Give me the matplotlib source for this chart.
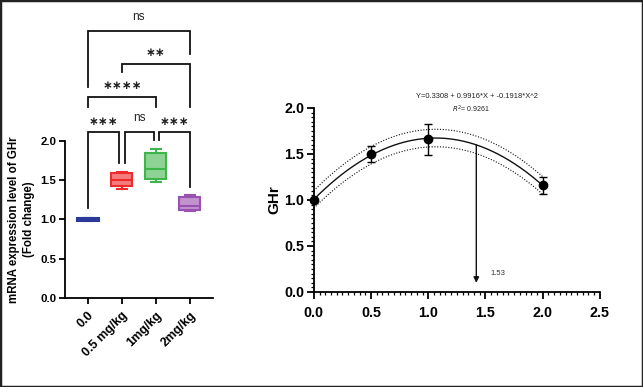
import numpy as np
import matplotlib
matplotlib.use("Agg")
import matplotlib.pyplot as plt
from matplotlib.patches import Rectangle
from matplotlib.ticker import MultipleLocator

plt.rcParams['font.family'] = ['Liberation Sans', 'DejaVu Sans']

# ---- left panel data (box stats) ----
groups = ["0.0", "0.5 mg/kg", "1mg/kg", "2mg/kg"]
box_colors = ["#2B3A9A", "#EE2A2A", "#3DB54A", "#9A52B0"]
box_fills = ["#5A67C0", "#F47C7C", "#8ED394", "#C193CF"]
whislo = [0.98, 1.39, 1.48, 1.11]
q1 = [0.98, 1.43, 1.52, 1.12]
med = [1.00, 1.50, 1.64, 1.17]
q3 = [1.02, 1.59, 1.85, 1.28]
whishi = [1.02, 1.61, 1.90, 1.31]

# significance brackets: (x_left, x_right, y, left_leg_bottom, right_leg_bottom, label)
sig_x1 = [0.0, 1.09, 2.09, 0.0, 1.0, 0.0]
sig_x2 = [0.91, 1.94, 3.0, 2.0, 3.0, 3.0]
sig_y = [2.11, 2.11, 2.11, 2.56, 2.98, 3.40]
sig_l = [1.15, 1.72, 2.01, 2.43, 2.88, 2.68]
sig_r = [1.72, 2.01, 1.41, 2.43, 2.43, 3.11]
sig_lab = ["∗∗∗", "ns", "∗∗∗", "∗∗∗∗", "∗∗", "ns"]

# ---- right panel data ----
dose = [0.0, 0.5, 1.0, 2.0]
ghr = [1.00, 1.50, 1.66, 1.16]
ghr_err = [0.0, 0.09, 0.17, 0.095]
ci_halfwidth = 0.095
arrow_x = 1.42
arrow_y_end = 0.10
arrow_label = "1.53"
equation = "Y=0.3308 + 0.9916*X + -0.1918*X^2"
r2_text = "$R^2$= 0.9261"

fig = plt.figure(figsize=(6.43, 3.87), dpi=100)
fig.patches.append(Rectangle((0, 0), 1, 1, transform=fig.transFigure,
                             fill=False, edgecolor="#222222", linewidth=2.5))

# ===== left panel =====
ax1 = fig.add_axes([0.101, 0.230, 0.230, 0.406])
stats = []
for i in range(len(groups)):
    stats.append(dict(med=med[i], q1=q1[i], q3=q3[i], whislo=whislo[i], whishi=whishi[i]))
pos = np.arange(len(groups))
bp = ax1.bxp(stats, positions=pos, widths=0.62, showfliers=False, patch_artist=True,
             manage_ticks=False)
for i in range(len(groups)):
    bp['boxes'][i].set_facecolor(box_fills[i])
    bp['boxes'][i].set_edgecolor(box_colors[i])
    bp['boxes'][i].set_linewidth(1.5)
    bp['medians'][i].set_color(box_colors[i])
    bp['medians'][i].set_linewidth(1.5)
    for w in bp['whiskers'][2 * i:2 * i + 2]:
        w.set_color(box_colors[i]); w.set_linewidth(1.5)
    for c in bp['caps'][2 * i:2 * i + 2]:
        c.set_color(box_colors[i]); c.set_linewidth(1.5)
        c.set_xdata([pos[i] - 0.15, pos[i] + 0.15])
bp['boxes'][0].set_facecolor(box_colors[0])

ax1.set_xlim(-0.68, 3.68)
ax1.set_ylim(0, 2.0)
ax1.set_yticks([0.0, 0.5, 1.0, 1.5, 2.0])
ax1.set_yticklabels(["0.0", "0.5", "1.0", "1.5", "2.0"], fontweight="bold", fontsize=8.2)
ax1.set_xticks(pos)
ax1.set_xticklabels(groups, rotation=45, ha="right", rotation_mode="anchor",
                    fontweight="bold", fontsize=9)
for s in ["top", "right"]:
    ax1.spines[s].set_visible(False)
for s in ["left", "bottom"]:
    ax1.spines[s].set_linewidth(1.3)
ax1.tick_params(width=1.3, length=4, pad=2)
ax1.tick_params(axis="x", pad=4)
ax1.set_ylabel("mRNA expression level of GHr\n(Fold change)", fontweight="bold",
               fontsize=8.3, labelpad=4, linespacing=1.35)

for i in range(len(sig_lab)):
    ax1.plot([sig_x1[i], sig_x1[i], sig_x2[i], sig_x2[i]],
             [sig_l[i], sig_y[i], sig_y[i], sig_r[i]],
             color="#111111", lw=1.3, clip_on=False, solid_joinstyle="miter")
    cx = (sig_x1[i] + sig_x2[i]) / 2
    if sig_lab[i] == "ns":
        ax1.text(cx, sig_y[i] + 0.10, "ns", ha="center", va="bottom", fontsize=8.5,
                 color="#222222", clip_on=False)
    else:
        ax1.text(cx, sig_y[i] + 0.06, sig_lab[i], ha="center", va="bottom", fontsize=8.5,
                 family="DejaVu Sans", fontweight="bold", color="#222222", clip_on=False)

# ===== right panel =====
ax2 = fig.add_axes([0.488, 0.2455, 0.445, 0.4755])
coef = np.polyfit(dose, ghr, 2)
xf = np.linspace(min(dose), max(dose), 200)
yf = np.polyval(coef, xf)
ax2.plot(xf, yf, color="#111111", lw=1.0)
ax2.plot(xf, yf + ci_halfwidth, color="#111111", lw=0.8, ls=(0, (1, 1.5)))
ax2.plot(xf, yf - ci_halfwidth, color="#111111", lw=0.8, ls=(0, (1, 1.5)))
ax2.errorbar(dose, ghr, yerr=ghr_err, fmt="o", color="#000000", ms=6,
             capsize=3, elinewidth=1.0, capthick=1.0, zorder=5, clip_on=False)
ay0 = np.polyval(coef, arrow_x)
ax2.annotate("", xy=(arrow_x, arrow_y_end), xytext=(arrow_x, ay0),
             arrowprops=dict(arrowstyle="-|>", color="#111111", lw=1.0,
                             mutation_scale=8, shrinkA=0, shrinkB=0))
ax2.text(arrow_x + 0.12, 0.2, arrow_label, fontsize=5.5, color="#333333", va="center")
ax2.text(1.425, 2.13, equation, fontsize=5.4, ha="center", va="center",
         color="#222222", clip_on=False)
ax2.text(1.37, 1.98, r2_text, fontsize=5.0, ha="center", va="center",
         color="#222222", clip_on=False)

ax2.set_xlim(0, 2.5)
ax2.set_ylim(0, 2.0)
ax2.set_xticks([0.0, 0.5, 1.0, 1.5, 2.0, 2.5])
ax2.set_xticklabels(["0.0", "0.5", "1.0", "1.5", "2.0", "2.5"], fontweight="bold", fontsize=10.3)
ax2.set_yticks([0.0, 0.5, 1.0, 1.5, 2.0])
ax2.set_yticklabels(["0.0", "0.5", "1.0", "1.5", "2.0"], fontweight="bold", fontsize=10.3)
ax2.xaxis.set_minor_locator(MultipleLocator(0.05))
ax2.yaxis.set_minor_locator(MultipleLocator(0.05))
for s in ["top", "right"]:
    ax2.spines[s].set_visible(False)
for s in ["left", "bottom"]:
    ax2.spines[s].set_linewidth(1.3)
ax2.tick_params(which="major", width=1.3, length=5, pad=2)
ax2.tick_params(axis="x", which="major", pad=5)
ax2.tick_params(which="minor", width=0.9, length=2.5)
ax2.set_ylabel("GHr", fontweight="bold", fontsize=11, labelpad=2)

fig.savefig("out.png", dpi=100)
